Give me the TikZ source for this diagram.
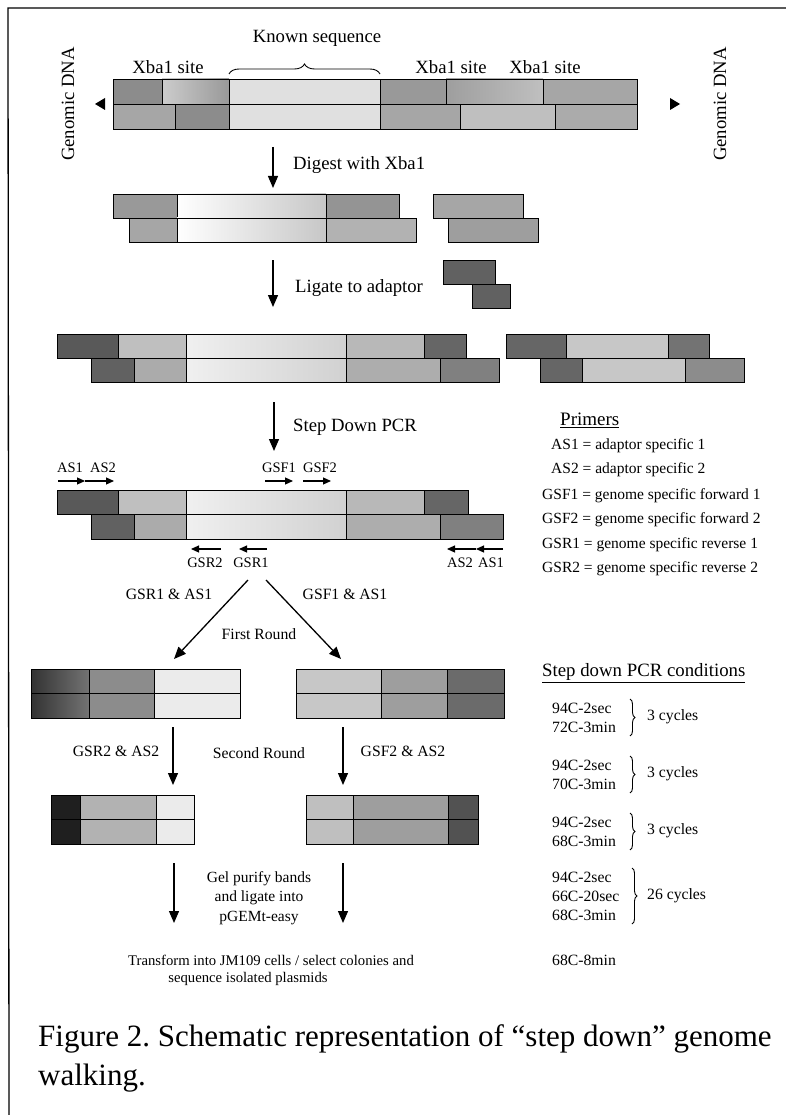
\documentclass[tikz,border=0pt]{standalone}
\usepackage{fontspec}
\setmainfont{Liberation Serif}
\usetikzlibrary{arrows.meta,decorations.pathreplacing}
\newcommand\dnaseg[5]{\fill[#5] (#1,#3) rectangle (#2,#4); \draw[line width=0.9pt] (#1,#3) rectangle (#2,#4);}
\begin{document}
\frenchspacing
\begin{tikzpicture}[x=1pt,y=-1pt,
  lbl/.style={inner sep=0pt, font=\fontsize{18.7}{22}\selectfont},
  mid/.style={inner sep=0pt, font=\fontsize{15.7}{19}\selectfont},
  prm/.style={inner sep=0pt, font=\fontsize{14.5}{17}\selectfont},
  leg/.style={inner sep=0pt, anchor=west, font=\fontsize{15.5}{18}\selectfont},
  cond/.style={inner sep=0pt, anchor=west, font=\fontsize{15.7}{18}\selectfont},
  bigarrow/.style={line width=1.3pt, -{Triangle[length=12pt,width=10pt]}},
  parrow/.style={line width=1.1pt, -{Triangle[length=8pt,width=7pt]}},
  condbrace/.style={decorate, decoration={brace, amplitude=5pt}, line width=0.9pt},
  lightgrad/.style={left color=white, right color=black!22}
]
\useasboundingbox (0,0) rectangle (786,1115);
\draw[line width=1.3pt] (786,8) -- (8,8) -- (9,1115);

% ---- top genomic DNA ----
\node[lbl] (known) at (317,38) {Known sequence};
\draw[decorate, decoration={brace, amplitude=10pt}, line width=0.9pt] (229,74) -- (380,74);
\node[lbl] (xb1) at (168,67) {Xba1 site};
\node[lbl] (xb2) at (451,67) {Xba1 site};
\node[lbl] (xb3) at (545,67) {Xba1 site};
\node[lbl, rotate=90] (gl) at (68,104) {Genomic DNA};
\node[lbl, rotate=90] (gr) at (720,104) {Genomic DNA};
\fill (95,104) -- (105,98) -- (105,110) -- cycle;
\fill (680,104) -- (670,98) -- (670,110) -- cycle;
\dnaseg{113}{162}{79}{104}{black!45}
\dnaseg{162}{229}{79}{104}{left color=black!20, right color=black!40}
\dnaseg{229}{380}{79}{104}{black!12}
\dnaseg{380}{446}{79}{104}{black!40}
\dnaseg{446}{543}{79}{104}{left color=black!38, right color=black!25}
\dnaseg{543}{637}{79}{104}{black!35}
\dnaseg{113}{175}{104}{129}{black!35}
\dnaseg{175}{229}{104}{129}{black!45}
\dnaseg{229}{380}{104}{129}{black!12}
\dnaseg{380}{460}{104}{129}{black!35}
\dnaseg{460}{555}{104}{129}{black!25}
\dnaseg{555}{637}{104}{129}{black!33}

% ---- digest ----
\coordinate (d1) at (273,147);
\coordinate (d2) at (273,188);
\draw[bigarrow] (d1) -- (d2);
\node[lbl, anchor=west] (digest) at (293,165) {Digest with Xba1};
\dnaseg{113}{177}{194}{218}{black!40}
\dnaseg{177}{326}{194}{218}{lightgrad}
\dnaseg{326}{399}{194}{218}{black!42}
\dnaseg{129}{177}{218}{242}{black!35}
\dnaseg{177}{326}{218}{242}{lightgrad}
\dnaseg{326}{416}{218}{242}{black!30}
\dnaseg{433}{523}{194}{218}{black!35}
\dnaseg{448}{538}{218}{242}{black!38}

% ---- ligate ----
\coordinate (lg1) at (273,260);
\coordinate (lg2) at (273,307);
\draw[bigarrow] (lg1) -- (lg2);
\node[lbl, anchor=west] (ligate) at (295,288) {Ligate to adaptor};
\dnaseg{443}{495}{260}{284}{black!62}
\dnaseg{472}{510}{284}{308}{black!62}

% ---- ligated fragments ----
\dnaseg{57}{118}{334}{358}{black!65}
\dnaseg{118}{186}{334}{358}{black!25}
\dnaseg{186}{346}{334}{358}{left color=black!6, right color=black!18}
\dnaseg{346}{424}{334}{358}{black!28}
\dnaseg{424}{466}{334}{358}{black!60}
\dnaseg{91}{134}{358}{382}{black!62}
\dnaseg{134}{186}{358}{382}{black!33}
\dnaseg{186}{346}{358}{382}{left color=black!6, right color=black!18}
\dnaseg{346}{440}{358}{382}{black!32}
\dnaseg{440}{499}{358}{382}{black!50}
\dnaseg{506}{566}{334}{358}{black!60}
\dnaseg{566}{668}{334}{358}{black!22}
\dnaseg{668}{709}{334}{358}{black!55}
\dnaseg{540}{582}{358}{382}{black!60}
\dnaseg{582}{685}{358}{382}{black!22}
\dnaseg{685}{744}{358}{382}{black!45}

% ---- step down PCR ----
\coordinate (s1) at (274,402);
\coordinate (s2) at (274,451);
\draw[bigarrow] (s1) -- (s2);
\node[lbl, anchor=west] (stepdown) at (293,427) {Step Down PCR};
\dnaseg{57}{118}{490}{514}{black!65}
\dnaseg{118}{186}{490}{514}{black!25}
\dnaseg{186}{346}{490}{514}{left color=black!6, right color=black!18}
\dnaseg{346}{424}{490}{514}{black!28}
\dnaseg{424}{468}{490}{514}{black!60}
\dnaseg{91}{134}{514}{539}{black!62}
\dnaseg{134}{186}{514}{539}{black!33}
\dnaseg{186}{346}{514}{539}{left color=black!6, right color=black!18}
\dnaseg{346}{440}{514}{539}{black!32}
\dnaseg{440}{503}{514}{539}{black!50}
% primers above
\node[prm] (as1t) at (70,468) {AS1};
\node[prm] (as2t) at (103,468) {AS2};
\node[prm] (gsf1t) at (279,468) {GSF1};
\node[prm] (gsf2t) at (320,468) {GSF2};
\coordinate (pa1) at (58,481); \coordinate (pa2) at (85,481); \coordinate (pa3) at (114,481);
\draw[parrow] (pa1) -- (pa2);
\draw[parrow] (pa2) -- (pa3);
\coordinate (pg1) at (265,481); \coordinate (pg2) at (293,481);
\coordinate (pg3) at (303,481); \coordinate (pg4) at (331,481);
\draw[parrow] (pg1) -- (pg2);
\draw[parrow] (pg3) -- (pg4);
% primers below
\coordinate (pr1) at (221,549); \coordinate (pr2) at (191,549);
\coordinate (pr3) at (267,549); \coordinate (pr4) at (239,549);
\draw[parrow] (pr1) -- (pr2);
\draw[parrow] (pr3) -- (pr4);
\coordinate (pb1) at (503,549); \coordinate (pb2) at (476,549); \coordinate (pb3) at (447,549);
\draw[parrow] (pb1) -- (pb2);
\draw[parrow] (pb2) -- (pb3);
\node[prm] (gsr2t) at (205,563) {GSR2};
\node[prm] (gsr1t) at (251,563) {GSR1};
\node[prm] (as2b) at (460,563) {AS2};
\node[prm] (as1b) at (491,563) {AS1};

% ---- first round ----
\coordinate (f0l) at (248,580); \coordinate (f1l) at (174,659);
\coordinate (f0r) at (266,580); \coordinate (f1r) at (341,659);
\draw[bigarrow] (f0l) -- (f1l);
\draw[bigarrow] (f0r) -- (f1r);
\node[mid] (r1l) at (169,594) {GSR1 \& AS1};
\node[mid] (r1r) at (345,594) {GSF1 \& AS1};
\node[mid] (first) at (259,634) {First Round};
\dnaseg{31}{89}{669}{693}{left color=black!80, right color=black!55}
\dnaseg{89}{154}{669}{693}{black!45}
\dnaseg{154}{240}{669}{693}{black!8}
\dnaseg{31}{89}{693}{718}{left color=black!80, right color=black!55}
\dnaseg{89}{154}{693}{718}{black!45}
\dnaseg{154}{240}{693}{718}{black!8}
\dnaseg{296}{381}{669}{693}{black!22}
\dnaseg{381}{447}{669}{693}{black!38}
\dnaseg{447}{504}{669}{693}{black!58}
\dnaseg{296}{381}{693}{718}{black!22}
\dnaseg{381}{447}{693}{718}{black!38}
\dnaseg{447}{504}{693}{718}{black!58}

% ---- second round ----
\coordinate (g0l) at (173,727); \coordinate (g1l) at (173,785);
\coordinate (g0r) at (343,727); \coordinate (g1r) at (343,785);
\draw[bigarrow] (g0l) -- (g1l);
\draw[bigarrow] (g0r) -- (g1r);
\node[mid] (r2l) at (116,751) {GSR2 \& AS2};
\node[mid] (second) at (259,753) {Second Round};
\node[mid] (r2r) at (403,751) {GSF2 \& AS2};
\dnaseg{51}{80}{795}{819}{black!88}
\dnaseg{80}{156}{795}{819}{black!30}
\dnaseg{156}{194}{795}{819}{black!8}
\dnaseg{51}{80}{819}{844}{black!88}
\dnaseg{80}{156}{819}{844}{black!30}
\dnaseg{156}{194}{819}{844}{black!8}
\dnaseg{306}{353}{795}{819}{black!25}
\dnaseg{353}{448}{795}{819}{black!38}
\dnaseg{448}{478}{795}{819}{black!68}
\dnaseg{306}{353}{819}{844}{black!25}
\dnaseg{353}{448}{819}{844}{black!38}
\dnaseg{448}{478}{819}{844}{black!68}

% ---- final ----
\coordinate (h0l) at (174,863); \coordinate (h1l) at (174,923);
\coordinate (h0r) at (343,863); \coordinate (h1r) at (343,923);
\draw[bigarrow] (h0l) -- (h1l);
\draw[bigarrow] (h0r) -- (h1r);
\node[inner sep=0pt, align=center, font=\fontsize{15.5}{19.5}\selectfont] (gel) at (259,898) {Gel purify bands\\ and ligate into\\ pGEMt-easy};
\node[inner sep=0pt, font=\fontsize{14.7}{17}\selectfont] (transform) at (271,960) {Transform into JM109 cells / select colonies and};
\node[inner sep=0pt, font=\fontsize{14.7}{17}\selectfont] (transform2) at (248,979) {sequence isolated plasmids};

% ---- primers legend ----
\node[leg, font=\fontsize{19}{22}\selectfont] (primers) at (560,420) {\underline{Primers}};
\node[leg] (lega) at (551,446) {AS1 = adaptor specific 1};
\node[leg] (legb) at (551,470) {AS2 = adaptor specific 2};
\node[leg] (legc) at (542,496) {GSF1 = genome specific forward 1};
\node[leg] (legd) at (542,520) {GSF2 = genome specific forward 2};
\node[leg] (lege) at (542,545) {GSR1 = genome specific reverse 1};
\node[leg] (legf) at (542,569) {GSR2 = genome specific reverse 2};

% ---- PCR conditions ----
\node[leg, font=\fontsize{18.8}{22}\selectfont] (cond) at (542,673) {\underline{Step down PCR conditions}};
\node[cond] (c11) at (552,708) {94C-2sec};
\node[cond] (c12) at (552,727) {72C-3min};
\draw[condbrace] (630,699) -- (630,736);
\node[cond] (k1) at (647,717) {3 cycles};
\node[cond] (c21) at (552,765) {94C-2sec};
\node[cond] (c22) at (552,784) {70C-3min};
\draw[condbrace] (630,756) -- (630,793);
\node[cond] (k2) at (647,774) {3 cycles};
\node[cond] (c31) at (552,822) {94C-2sec};
\node[cond] (c32) at (552,841) {68C-3min};
\draw[condbrace] (630,813) -- (630,850);
\node[cond] (k3) at (647,831) {3 cycles};
\node[cond] (c41) at (552,877) {94C-2sec};
\node[cond] (c42) at (552,896) {66C-20sec};
\node[cond] (c43) at (552,915) {68C-3min};
\draw[condbrace] (632,868) -- (632,924);
\node[cond] (k4) at (647,896) {26 cycles};
\node[cond] (c5) at (552,960) {68C-8min};

% ---- caption ----
\node[inner sep=0pt, anchor=base west, font=\fontsize{31}{40}\selectfont] (cap1) at (38,1046) {Figure 2. Schematic representation of “step down” genome};
\node[inner sep=0pt, anchor=base west, font=\fontsize{31}{40}\selectfont] (cap2) at (38,1085) {walking.};
\end{tikzpicture}
\end{document}
